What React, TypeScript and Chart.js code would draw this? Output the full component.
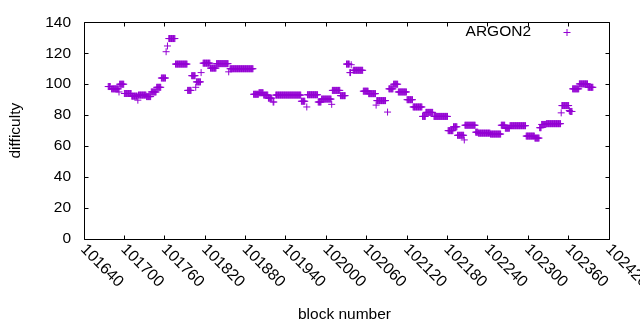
import { useEffect, useRef } from 'react';
import { Chart, registerables } from 'chart.js';

Chart.register(...registerables);

const seriesLabel = 'ARGON2';
const seriesColor = '#9400D3';
const xTitle = 'block number';
const yTitle = 'difficulty';

// runs of consecutive blocks sharing one difficulty
const runStart = [
  101676, 101681, 101692, 101693, 101700, 101711, 101720, 101721, 101733, 101740,
  101748, 101755, 101762, 101764, 101766, 101776, 101794, 101800, 101806, 101807,
  101814, 101817, 101828, 101837, 101855, 101857, 101892, 101900, 101907, 101914,
  101921, 101925, 101963, 101971, 101972, 101988, 101993, 102008, 102009, 102021,
  102030, 102035, 102037, 102040, 102055, 102063, 102074, 102075, 102091, 102093,
  102100, 102107, 102120, 102129, 102143, 102148, 102160, 102181, 102189, 102195,
  102205, 102206, 102222, 102226, 102244, 102260, 102266, 102273, 102297, 102310,
  102317, 102320, 102327, 102349, 102350, 102361, 102362, 102366, 102376, 102389,
];
const runEnd = [
  101679, 101691, 101692, 101699, 101710, 101719, 101720, 101732, 101739, 101747,
  101754, 101761, 101762, 101764, 101775, 101793, 101799, 101805, 101806, 101813,
  101814, 101827, 101836, 101854, 101855, 101891, 101899, 101906, 101913, 101919,
  101922, 101962, 101968, 101971, 101987, 101992, 102007, 102008, 102020, 102028,
  102034, 102036, 102037, 102054, 102062, 102073, 102074, 102088, 102091, 102099,
  102106, 102119, 102128, 102142, 102147, 102158, 102180, 102188, 102194, 102204,
  102205, 102221, 102225, 102243, 102259, 102265, 102272, 102296, 102309, 102316,
  102319, 102326, 102348, 102349, 102360, 102361, 102365, 102375, 102388, 102396,
];
const runDifficulty = [
  98.5, 97, 95, 100, 94, 92.3, 89.7, 93, 92, 95,
  98, 104, 121, 124.7, 129.5, 113, 96, 105.5, 98, 101.5,
  107.5, 113.6, 110.4, 113.3, 108, 110, 93.5, 94.5, 93, 91,
  88.5, 93, 89, 85.3, 93.2, 88.5, 90.4, 87, 96, 92.6,
  113, 107.5, 112.6, 109, 95.5, 93.9, 86.5, 89.4, 82, 97,
  100, 95, 90, 85.3, 79.2, 81.8, 79.2, 70, 72.5, 67,
  64, 73.5, 69, 68.4, 67.8, 73.5, 71.6, 73.2, 66.5, 65.2,
  71.9, 74, 74.5, 81.5, 86.2, 83, 82.4, 97, 100.2, 98,
];

const xMin = 101640;
const xMax = 102420;
const xStep = 60;
const yMin = 0;
const yMax = 140;
const yStep = 20;

const FONT = "'Liberation Sans', Arial, sans-serif";
const FS = 15.5;

function buildPoints() {
  const pts: { x: number; y: number }[] = [];
  for (let i = 0; i < runStart.length; i++) {
    for (let b = runStart[i]; b <= runEnd[i]; b++) {
      pts.push({ x: b, y: runDifficulty[i] });
    }
  }
  return pts;
}

const gnuFrame = {
  id: 'gnuFrame',
  afterDatasetsDraw(chart: any) {
    const { ctx, chartArea } = chart;
    const { left, right, top, bottom } = chartArea;
    const xs = chart.scales.x;
    const ys = chart.scales.y;
    const L = Math.floor(left) + 0.5;
    const R = Math.floor(right) + 0.5;
    const T = Math.floor(top) + 0.5;
    const B = Math.floor(bottom) + 0.5;
    ctx.save();
    ctx.strokeStyle = '#000';
    ctx.lineWidth = 1;
    ctx.beginPath();
    ctx.rect(L, T, R - L, B - T);
    ctx.stroke();
    const tl = 4;
    ctx.beginPath();
    xs.ticks.forEach((t: any) => {
      const px = Math.floor(xs.getPixelForValue(t.value)) + 0.5;
      ctx.moveTo(px, B);
      ctx.lineTo(px, B - tl);
      ctx.moveTo(px, T);
      ctx.lineTo(px, T + tl);
    });
    ys.ticks.forEach((t: any) => {
      const py = Math.floor(ys.getPixelForValue(t.value)) + 0.5;
      ctx.moveTo(L, py);
      ctx.lineTo(L + tl, py);
      ctx.moveTo(R, py);
      ctx.lineTo(R - tl, py);
    });
    ctx.stroke();

    // rotated x tick labels (gnuplot "rotate by -45")
    ctx.fillStyle = '#000';
    ctx.font = `16px ${FONT}`;
    ctx.textAlign = 'left';
    ctx.textBaseline = 'middle';
    xs.ticks.forEach((t: any) => {
      const px = xs.getPixelForValue(t.value);
      ctx.save();
      ctx.translate(px - 1, bottom + 8);
      ctx.rotate(Math.PI / 4);
      ctx.fillText(String(t.value), 0, 0);
      ctx.restore();
    });

    // axis titles
    ctx.font = `${FS}px ${FONT}`;
    ctx.textAlign = 'center';
    ctx.fillText(xTitle, (left + right) / 2 - 2, 315);
    ctx.save();
    ctx.translate(16, (top + bottom) / 2);
    ctx.rotate(-Math.PI / 2);
    ctx.fillText(yTitle, 0, 0);
    ctx.restore();

    // key
    ctx.textAlign = 'right';
    ctx.fillText(chart.data.datasets[0].label, 531, 32);
    ctx.strokeStyle = seriesColor;
    ctx.beginPath();
    ctx.moveTo(563.5, 32.5);
    ctx.lineTo(570.5, 32.5);
    ctx.moveTo(567, 29);
    ctx.lineTo(567, 36);
    ctx.stroke();
    ctx.restore();
  },
};

export default function App() {
  const ref = useRef<HTMLCanvasElement | null>(null);
  useEffect(() => {
    if (!ref.current) return;
    const chart = new Chart(ref.current, {
      type: 'scatter',
      data: {
        datasets: [
          {
            label: seriesLabel,
            data: buildPoints(),
            pointStyle: 'cross',
            pointRadius: 3.5,
            pointBorderWidth: 1,
            borderColor: seriesColor,
            backgroundColor: seriesColor,
            showLine: false,
          } as any,
        ],
      },
      options: {
        animation: false,
        responsive: false,
        maintainAspectRatio: false,
        layout: { padding: { top: 19, right: 31, left: 0, bottom: 0 } },
        plugins: { legend: { display: false }, tooltip: { enabled: false } },
        scales: {
          x: {
            type: 'linear',
            min: xMin,
            max: xMax,
            ticks: { display: false, stepSize: xStep },
            grid: { display: false, drawTicks: false },
            border: { display: false },
            afterFit: (s: any) => {
              s.height = 91;
            },
          },
          y: {
            type: 'linear',
            min: yMin,
            max: yMax,
            ticks: {
              stepSize: yStep,
              padding: 13,
              color: '#000',
              font: { family: FONT, size: FS },
            },
            grid: { display: false, drawTicks: false },
            border: { display: false },
            afterFit: (s: any) => {
              s.width = 84;
            },
          },
        },
      },
      plugins: [gnuFrame],
    });
    return () => chart.destroy();
  }, []);
  return (
    <div style={{ position: 'absolute', left: 0, top: 0, width: 640, height: 330 }}>
      <canvas ref={ref} width={640} height={330} />
    </div>
  );
}
